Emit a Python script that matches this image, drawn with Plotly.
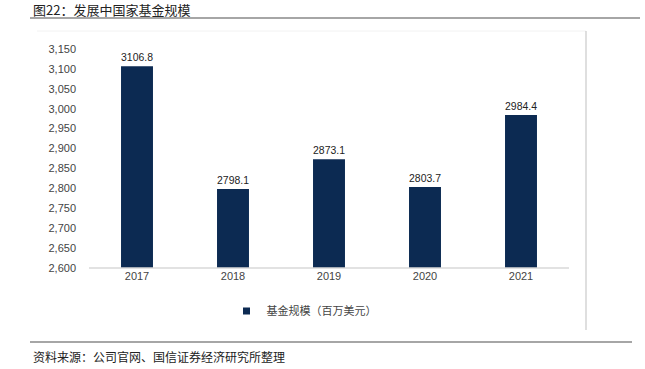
import plotly.graph_objects as go

years = ["2017", "2018", "2019", "2020", "2021"]
values = [3106.8, 2798.1, 2873.1, 2803.7, 2984.4]
tick_vals = [2600, 2650, 2700, 2750, 2800, 2850, 2900, 2950, 3000, 3050, 3100, 3150]
tick_text = ["2,600", "2,650", "2,700", "2,750", "2,800", "2,850", "2,900", "2,950", "3,000", "3,050", "3,100", "3,150"]
series_name = "基金规模（百万美元）"
title_text = "图22：发展中国家基金规模"
source_text = "资料来源：公司官网、国信证券经济研究所整理"

W, H = 645, 369
L, R, T, B = 89, 76, 49, 101
BAR_COLOR = "#0c2a52"

fig = go.Figure()
fig.add_trace(go.Bar(
    x=years, y=values, name=series_name, showlegend=False,
    marker=dict(color=BAR_COLOR, line=dict(width=0)),
    text=[f"{v:.1f}" for v in values], textposition="outside",
    textfont=dict(family="Liberation Sans, Arial", size=11, color="#222222"),
    cliponaxis=False,
))
fig.add_trace(go.Scatter(
    x=[None], y=[None], mode="markers", name=series_name, showlegend=True,
    marker=dict(symbol="square", size=7, color=BAR_COLOR),
))

def px(xp):
    return (xp - L) / (W - L - R)

def py(yp):
    return (H - B - yp) / (H - T - B)

shapes = [
    dict(type="line", xref="paper", yref="paper", x0=px(30), x1=px(640), y0=py(18), y1=py(18),
         line=dict(color="#a6a6a6", width=2)),
    dict(type="line", xref="paper", yref="paper", x0=px(37), x1=px(586), y0=py(31), y1=py(31),
         line=dict(color="#f2f2f2", width=1)),
    dict(type="line", xref="paper", yref="paper", x0=px(586), x1=px(586), y0=py(31), y1=py(330),
         line=dict(color="#bfbfbf", width=1)),
    dict(type="line", xref="paper", yref="paper", x0=0, x1=1, y0=0, y1=0,
         line=dict(color="#d9d9d9", width=1.5)),
    dict(type="line", xref="paper", yref="paper", x0=px(30), x1=px(632), y0=py(342), y1=py(342),
         line=dict(color="#a6a6a6", width=2)),
]

annotations = [
    dict(text=title_text, xref="paper", yref="paper", x=px(31), y=py(9), xanchor="left", yanchor="middle",
         showarrow=False, font=dict(family="Noto Sans CJK SC", size=13, color="#222222")),
    dict(text=source_text, xref="paper", yref="paper", x=px(31), y=py(356), xanchor="left", yanchor="middle",
         showarrow=False, font=dict(family="Noto Sans CJK SC", size=12, color="#222222")),
]

fig.update_layout(
    width=W, height=H,
    margin=dict(l=L, r=R, t=T, b=B, autoexpand=False),
    paper_bgcolor="white", plot_bgcolor="white",
    bargap=0.667,
    showlegend=True,
    legend=dict(orientation="h", x=px(304), y=py(311), xanchor="center", yanchor="middle",
                font=dict(family="Noto Sans CJK SC", size=11, color="#444444"),
                itemwidth=30, tracegroupgap=0),
    xaxis=dict(showgrid=False, showline=False, ticks="", zeroline=False,
               tickfont=dict(family="Liberation Sans, Arial", size=11, color="#444444")),
    yaxis=dict(range=[2600, 3150], tickvals=tick_vals, ticktext=tick_text, showgrid=False,
               showline=False, zeroline=False, ticks="", ticklabelstandoff=12,
               tickfont=dict(family="Liberation Sans, Arial", size=11, color="#444444")),
    shapes=shapes, annotations=annotations,
)

fig.write_html("out.html", config={"displayModeBar": False},
               post_script="document.body.style.margin='0';document.body.style.overflow='hidden';")
